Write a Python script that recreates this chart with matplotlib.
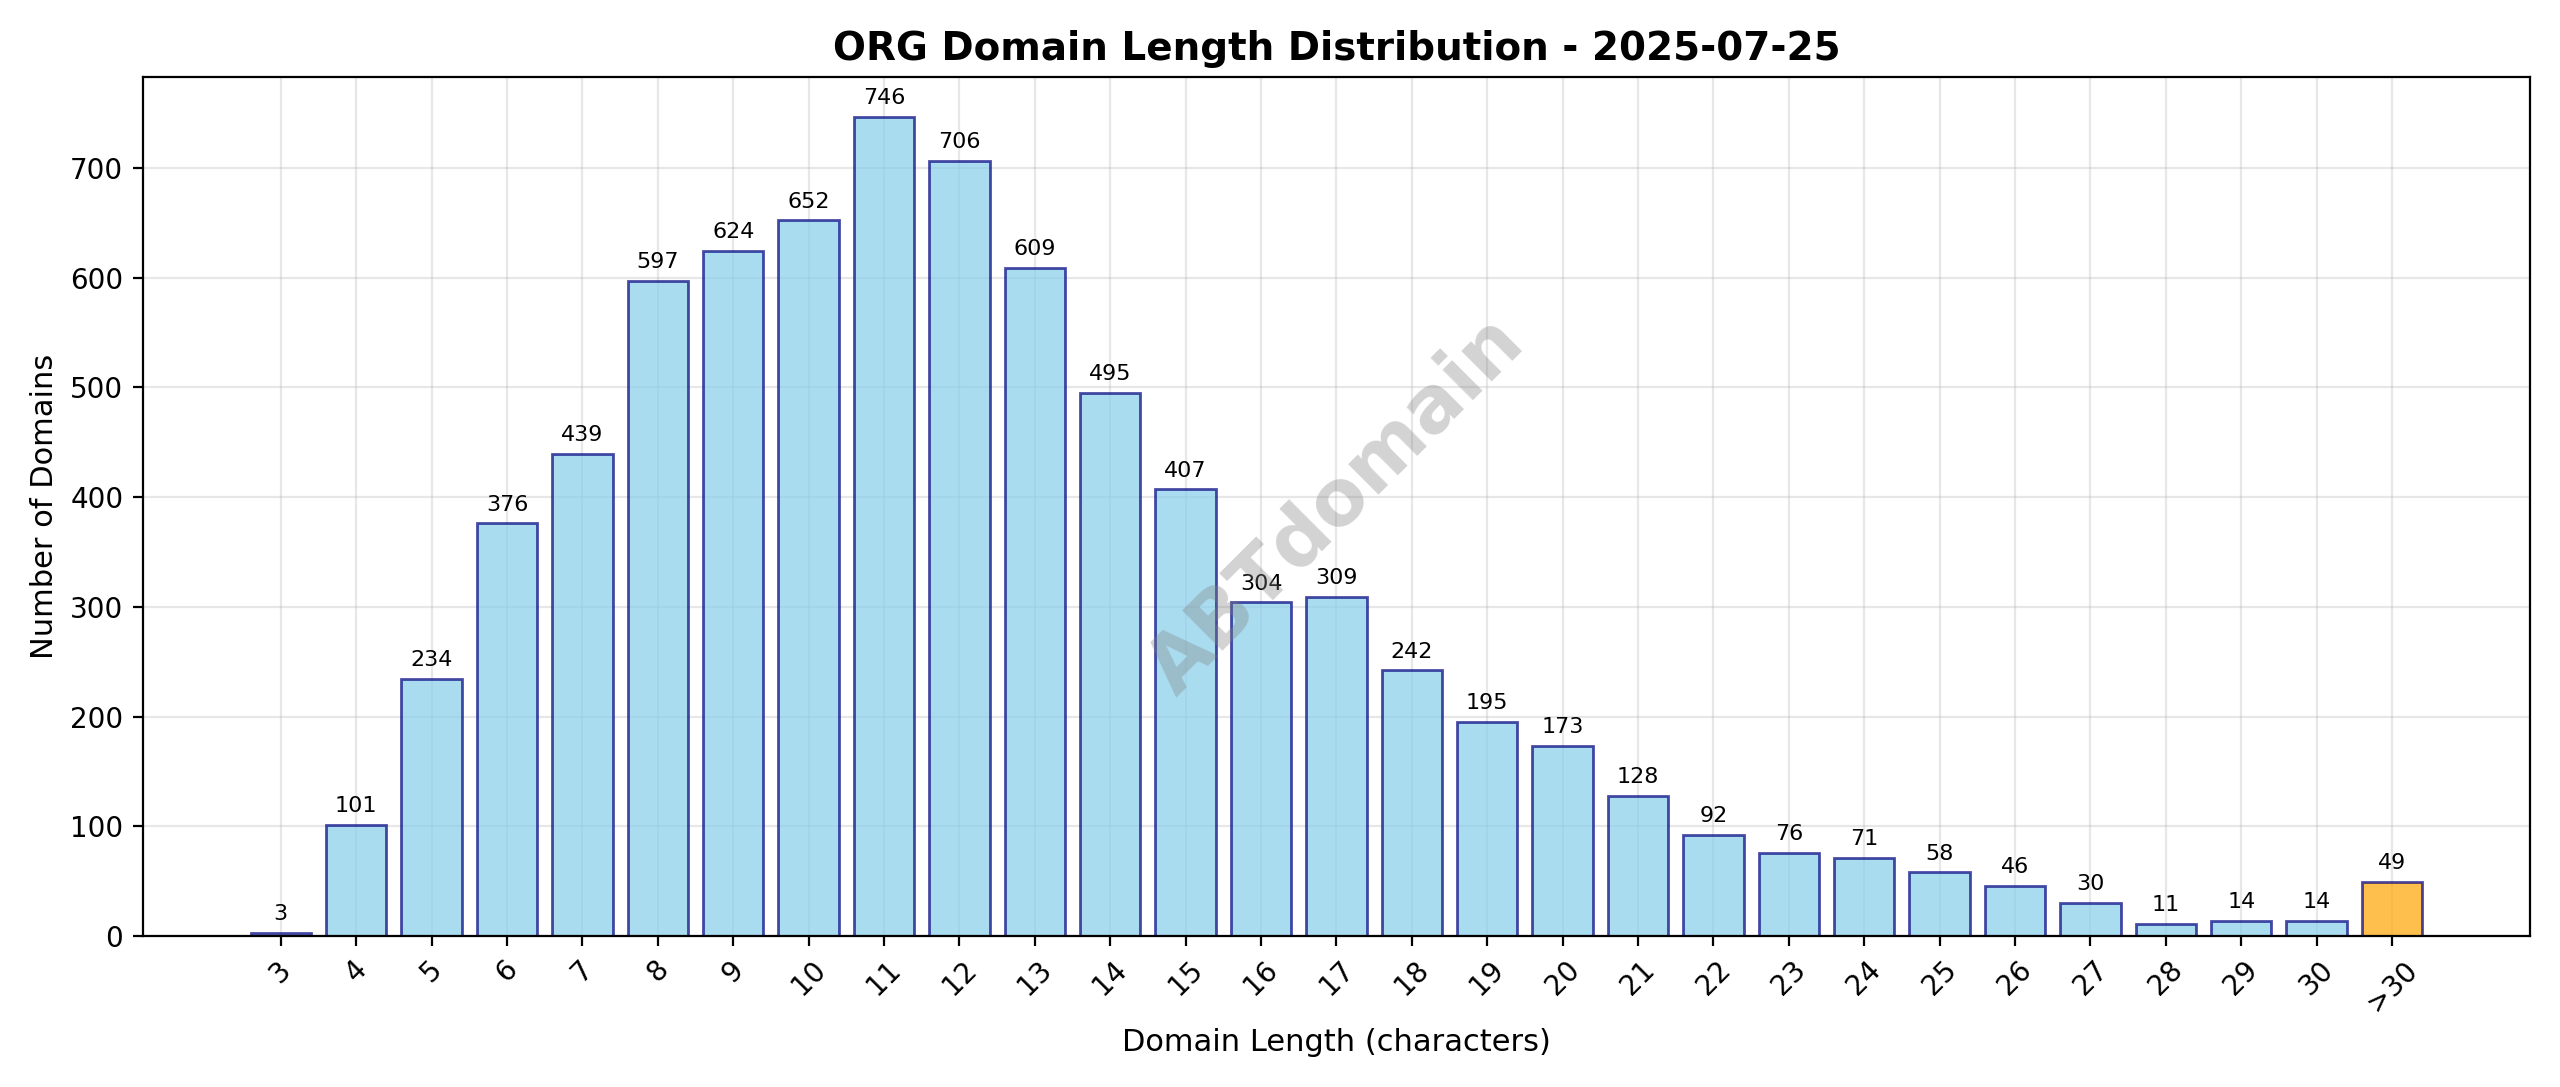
import matplotlib
matplotlib.use("Agg")
import matplotlib.pyplot as plt

labels = [str(i) for i in range(3, 31)] + [">30"]
values = [3, 101, 234, 376, 439, 597, 624, 652, 746, 706, 609, 495, 407, 304, 309,
          242, 195, 173, 128, 92, 76, 71, 58, 46, 30, 11, 14, 14, 49]

fig, ax = plt.subplots(figsize=(12.8, 5.435), dpi=200)
x = list(range(len(labels)))
colors = ["skyblue"] * (len(labels) - 1) + ["orange"]
bars = ax.bar(x, values, color=colors, alpha=0.7, edgecolor="navy", linewidth=1, width=0.8)
for xi, v in zip(x, values):
    ax.text(xi, v + 8, str(v), ha="center", va="bottom", fontsize=8)
ax.set_xticks(x)
ax.set_xticklabels(labels, rotation=45)
ax.set_xlim(-1.83, len(labels) - 1 + 1.83)
ax.set_ylim(0, 783)
ax.set_xlabel("Domain Length (characters)", fontsize=11)
ax.set_ylabel("Number of Domains", fontsize=11)
ax.set_title("ORG Domain Length Distribution - 2025-07-25", fontsize=14, fontweight="bold")
ax.grid(True, alpha=0.3)
ax.set_axisbelow(True)
ax.text(0.5, 0.5, "ABTdomain", transform=ax.transAxes, fontsize=28, color="gray",
        alpha=0.35, rotation=45, ha="center", va="center", fontweight="bold")
plt.tight_layout()
fig.savefig("out.png", dpi=200)
